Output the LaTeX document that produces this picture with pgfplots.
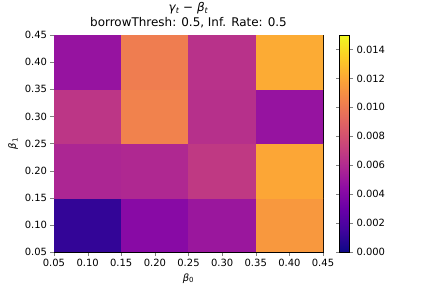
\documentclass[border=0pt]{standalone}
\usepackage{fontspec}
\setmainfont{DejaVu Sans}
\usepackage{pgfplots}
\pgfplotsset{compat=1.18}

\pgfplotstableread{
x    y    c
0.10 0.10 0.0011
0.20 0.10 0.0042
0.30 0.10 0.0050
0.40 0.10 0.0114
0.10 0.20 0.0058
0.20 0.20 0.0059
0.30 0.20 0.0068
0.40 0.20 0.0120
0.10 0.30 0.0066
0.20 0.30 0.0104
0.30 0.30 0.0063
0.40 0.30 0.0048
0.10 0.40 0.0048
0.20 0.40 0.0102
0.30 0.40 0.0064
0.40 0.40 0.0122
}\gapdata

\begin{document}
\begin{tikzpicture}
\useasboundingbox (0,0) rectangle (432bp,288bp);
\begin{axis}[
  at={(54bp,36bp)}, anchor=south west,
  width=269bp, height=217bp, scale only axis,
  xmin=0.05, xmax=0.45, ymin=0.05, ymax=0.45,
  xtick={0.05,0.10,...,0.46}, ytick={0.05,0.10,...,0.46},
  xticklabel style={/pgf/number format/fixed, /pgf/number format/fixed zerofill, /pgf/number format/precision=2},
  yticklabel style={/pgf/number format/fixed, /pgf/number format/fixed zerofill, /pgf/number format/precision=2},
  /pgf/number format/assume math mode=true,
  tick label style={font=\fontsize{10}{12}\selectfont},
  tick align=outside, major tick length=3.5bp,
  xtick pos=left, ytick pos=left,
  title={\textit{γ\textsubscript{t}} − \textit{β\textsubscript{t}}\\borrowThresh: 0.5, Inf. Rate: 0.5},
  title style={align=center, font=\fontsize{12}{14.4}\selectfont, yshift=-2bp},
  xlabel={\textit{β}\textsubscript{0}}, ylabel={\textit{β}\textsubscript{1}},
  label style={font=\fontsize{10}{12}\selectfont},
  colormap={plasma}{rgb255=(13,8,135) rgb255=(65,4,157) rgb255=(106,0,168)
    rgb255=(143,13,164) rgb255=(177,42,144) rgb255=(204,71,120)
    rgb255=(225,100,98) rgb255=(242,132,75) rgb255=(252,166,54)
    rgb255=(252,206,37) rgb255=(240,249,33)},
  point meta min=0, point meta max=0.015,
  colorbar,
  colorbar style={
    at={(parent axis.north east)}, anchor=north west, xshift=8bp,
    scale only axis, width=10bp, height=217bp,
    ytick={0,0.002,...,0.0141}, scaled y ticks=false,
    yticklabel style={/pgf/number format/fixed, /pgf/number format/fixed zerofill, /pgf/number format/precision=3},
    /pgf/number format/assume math mode=true,
    tick label style={font=\fontsize{10}{12}\selectfont},
    tick align=outside, major tick length=3.5bp,
  },
]
\addplot[matrix plot*, mesh/cols=4, point meta=explicit] table[x=x, y=y, meta=c] {\gapdata};
\end{axis}
\end{tikzpicture}
\end{document}
